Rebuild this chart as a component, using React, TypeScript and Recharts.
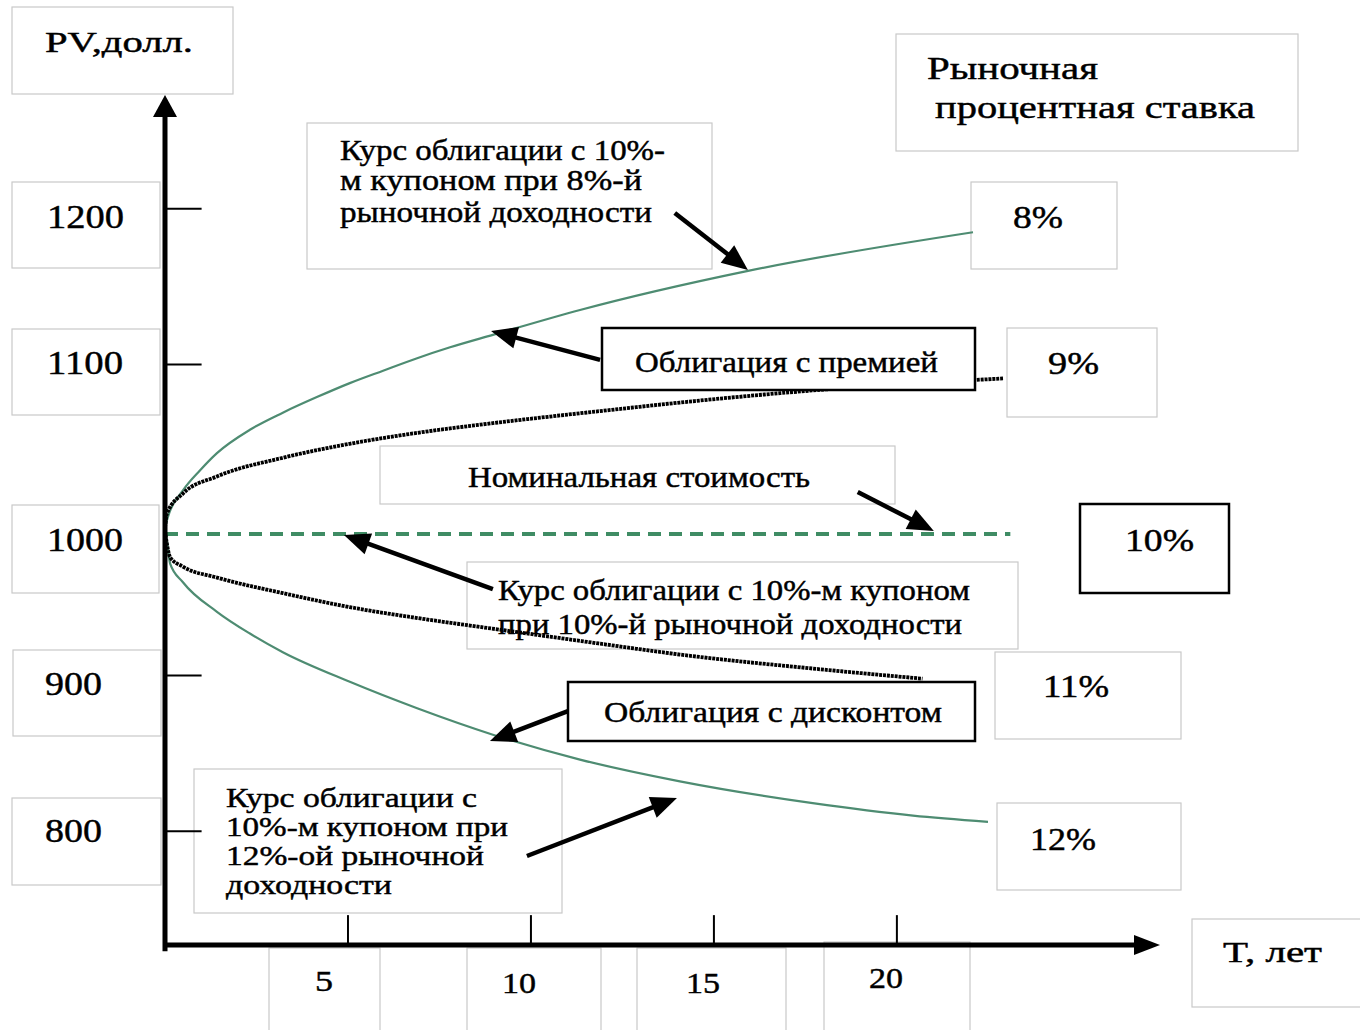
import React from 'react';
import { LineChart, Line, XAxis, YAxis, ReferenceLine } from 'recharts';

// ---- data ----
const t8 = [0, 0.08, 0.49, 0.96, 1.42, 2.32, 3.22, 4.15, 5.05, 5.96, 6.89, 7.79, 8.96, 11.34, 15.9, 22.08];
const pv8 = [995, 1002, 1019, 1032, 1043, 1058, 1069, 1079, 1088, 1096, 1104, 1111, 1119, 1135, 1160, 1185];

const t9 = [0, 0.05, 0.49, 1.42, 3.22, 5.05, 6.89, 8.69, 10.52, 11.89, 14.07, 18.09, 22.9];
const pv9 = [995, 1004, 1017, 1028, 1040, 1049, 1056, 1061.5, 1066.5, 1070, 1075.5, 1084, 1091];

const t11 = [0, 0.05, 0.14, 0.49, 1.42, 3.22, 5.05, 6.89, 8.69, 10.52, 11.89, 14.07, 17.7, 20.7];
const pv11 = [993, 985, 976, 970, 963, 953, 944, 937, 931, 925, 920.5, 913.5, 904.5, 898];

const t12 = [0, 0.05, 0.14, 0.49, 1.42, 2.32, 3.22, 5.05, 6.89, 8.96, 11.34, 14.07, 17.7, 20.44, 22.49];
const pv12 = [993, 987, 972, 960, 941, 927, 915, 896, 879, 862, 846, 832, 818, 810, 806];

const tNominal = [0, 23.1];
const pvNominal = [991, 991];

const yTickValues = [1200, 1100, 900, 800];
const yTickLabels = ['1200', '1100', '1000', '900', '800'];
const xTickValues = [5, 10, 15, 20];
const xTickLabels = ['5', '10', '15', '20'];
const rateLabels = ['8%', '9%', '10%', '11%', '12%'];

const X_MAX = 27.19;
const Y_MIN = 726.8;
const Y_MAX = 1273.2;

// annotation arrows: from [T, PV] -> to [T, PV]
const arrowFrom = [
  [13.93, 1197.4], [11.89, 1102.9], [18.93, 1018.0], [8.96, 955.6], [11.01, 877.2], [9.89, 784.0],
];
const arrowTo = [
  [15.93, 1160.7], [8.91, 1121.5], [21.01, 992.9], [4.89, 990.4], [8.88, 857.9], [13.99, 821.3],
];

const zip = (ts: number[], vs: number[]) => ts.map((t, i) => ({ t, pv: vs[i] }));
const d8 = zip(t8, pv8);
const d9 = zip(t9, pv9);
const d11 = zip(t11, pv11);
const d12 = zip(t12, pv12);
const dNom = zip(tNominal, pvNominal);

const FONT = '"Liberation Serif", "Times New Roman", serif';

const arrowShape = (w: number, headLen: number, headW: number) => (p: any) => {
  const { x1, y1, x2, y2 } = p;
  const dx = x2 - x1;
  const dy = y2 - y1;
  const L = Math.hypot(dx, dy) || 1;
  const ux = dx / L;
  const uy = dy / L;
  const bx = x2 - ux * headLen;
  const by = y2 - uy * headLen;
  const nx = -uy;
  const ny = ux;
  return (
    <g>
      <line x1={x1} y1={y1} x2={bx + ux * 2} y2={by + uy * 2} stroke="#000" strokeWidth={w} />
      <polygon
        points={`${x2},${y2} ${bx + (nx * headW) / 2},${by + (ny * headW) / 2} ${bx - (nx * headW) / 2},${by - (ny * headW) / 2}`}
        fill="#000"
      />
    </g>
  );
};

const plainLine = (w: number) => (p: any) => (
  <line x1={p.x1} y1={p.y1} x2={p.x2} y2={p.y2} stroke="#000" strokeWidth={w} />
);

type Txt = { s: string; x: number; y: number; w: number; fs?: number };
const T = ({ s, x, y, w, fs = 30 }: Txt) => (
  <text
    x={x}
    y={y}
    fontSize={fs}
    fontFamily={FONT}
    fill="#000"
    stroke="#000"
    strokeWidth={0.45}
    textLength={w}
    lengthAdjust="spacingAndGlyphs"
  >
    {s}
  </text>
);

const Box = ({ x, y, w, h, dark, fill }: { x: number; y: number; w: number; h: number; dark?: boolean; fill?: string }) => (
  <rect
    x={x}
    y={y}
    width={w}
    height={h}
    fill={fill ?? 'none'}
    stroke={dark ? '#000' : '#c9c9c9'}
    strokeWidth={dark ? 2.5 : 1.2}
  />
);

export default function App() {
  const under = (
    <svg width={1360} height={1030} style={{ position: 'absolute', left: 0, top: 0 }}>
      <rect x={0} y={0} width={1360} height={1030} fill="#fff" />
      {/* axis title */}
      <Box x={12} y={7} w={221} h={87} />
      <T s="PV,долл." x={45} y={52} w={148} />
      {/* y tick label boxes */}
      <Box x={12} y={182} w={148} h={86} />
      <T s={yTickLabels[0]} x={47} y={228} w={77} fs={34} />
      <Box x={12} y={329} w={148} h={86} />
      <T s={yTickLabels[1]} x={47} y={374} w={76} fs={34} />
      <Box x={12} y={505} w={147} h={88} />
      <T s={yTickLabels[2]} x={47} y={551} w={76} fs={34} />
      <Box x={13} y={650} w={148} h={86} />
      <T s={yTickLabels[3]} x={45} y={695} w={57} fs={34} />
      <Box x={12} y={798} w={149} h={87} />
      <T s={yTickLabels[4]} x={45} y={842} w={57} fs={34} />
      {/* x tick label boxes */}
      <Box x={269} y={948} w={111} h={90} />
      <T s={xTickLabels[0]} x={315} y={991} w={18} />
      <Box x={467} y={948} w={134} h={90} />
      <T s={xTickLabels[1]} x={502} y={993} w={34} />
      <Box x={637} y={948} w={149} h={90} />
      <T s={xTickLabels[2]} x={686} y={993} w={34} />
      <Box x={824} y={942} w={146} h={96} />
      <T s={xTickLabels[3]} x={869} y={988} w={34} />
      {/* x axis title */}
      <Box x={1192} y={919} w={175} h={88} />
      <T s="T, лет" x={1223} y={962} w={99} />
      {/* legend title */}
      <Box x={896} y={34} w={402} h={117} />
      <T s="Рыночная" x={927} y={79} w={171} fs={32} />
      <T s="процентная ставка" x={935} y={118} w={320} fs={32} />
      {/* rate labels */}
      <Box x={971} y={182} w={146} h={87} />
      <T s={rateLabels[0]} x={1013} y={228} w={50} fs={32} />
      <Box x={1007} y={328} w={150} h={89} />
      <T s={rateLabels[1]} x={1048} y={374} w={51} fs={32} />
      <Box x={1080} y={504} w={149} h={89} dark />
      <T s={rateLabels[2]} x={1125} y={551} w={69} fs={32} />
      <Box x={995} y={652} w={186} h={87} />
      <T s={rateLabels[3]} x={1043} y={697} w={66} fs={32} />
      <Box x={997} y={803} w={184} h={87} />
      <T s={rateLabels[4]} x={1030} y={850} w={66} fs={32} />
      {/* annotations */}
      <Box x={307} y={123} w={405} h={146} />
      <T s="Курс облигации с 10%-" x={340} y={160} w={325} />
      <T s="м купоном при 8%-й" x={340} y={190} w={302} />
      <T s="рыночной доходности" x={340} y={222} w={312} />
      <Box x={380} y={446} w={515} h={58} />
      <T s="Номинальная стоимость" x={468} y={487} w={342} />
      <Box x={467} y={562} w={551} h={87} />
      <T s="Курс облигации с 10%-м купоном" x={498} y={600} w={472} />
      <T s="при 10%-й рыночной доходности" x={498} y={634} w={464} />
      <Box x={568} y={682} w={407} h={59} dark fill="#fff" />
      <T s="Облигация с дисконтом" x={604} y={722} w={338} />
      <Box x={194} y={769} w={368} h={144} />
      <T s="Курс облигации с" x={226} y={807} w={251} fs={28} />
      <T s="10%-м купоном при" x={226} y={836} w={282} fs={28} />
      <T s="12%-ой рыночной" x={226} y={865} w={258} fs={28} />
      <T s="доходности" x={226} y={894} w={166} fs={28} />
    </svg>
  );

  const over = (
    <svg width={1360} height={1030} style={{ position: 'absolute', left: 0, top: 0, pointerEvents: 'none' }}>
      <Box x={602} y={328} w={373} h={62} dark fill="#fff" />
      <T s="Облигация с премией" x={635} y={372} w={303} />
    </svg>
  );

  return (
    <div style={{ position: 'absolute', left: 0, top: 0, width: 1360, height: 1030, background: '#fff' }}>
      {under}
      <div style={{ position: 'absolute', left: 0, top: 0 }}>
        <LineChart width={1360} height={1030} margin={{ top: 95, right: 200, bottom: 85, left: 165 }}>
          <XAxis type="number" dataKey="t" domain={[0, X_MAX]} allowDataOverflow hide />
          <YAxis type="number" dataKey="pv" domain={[Y_MIN, Y_MAX]} allowDataOverflow hide />
          <Line data={dNom} dataKey="pv" type="linear" stroke="#3f8c64" strokeWidth={4} strokeDasharray="13 8" dot={false} isAnimationActive={false} />
          <Line data={d8} dataKey="pv" type="monotone" stroke="#4e8c72" strokeWidth={2.2} dot={false} isAnimationActive={false} />
          <Line data={d12} dataKey="pv" type="monotone" stroke="#4e8c72" strokeWidth={2.2} dot={false} isAnimationActive={false} />
          <Line data={d9} dataKey="pv" type="monotone" stroke="#000" strokeWidth={3.8} strokeDasharray="3 0.9" dot={false} isAnimationActive={false} />
          <Line data={d11} dataKey="pv" type="monotone" stroke="#000" strokeWidth={3.8} strokeDasharray="3 0.9" dot={false} isAnimationActive={false} />
          {/* axes */}
          <ReferenceLine segment={[{ x: 0, y: Y_MIN - 4 }, { x: 0, y: Y_MAX }]} ifOverflow="visible" shape={arrowShape(5, 22, 24)} />
          <ReferenceLine segment={[{ x: 0, y: Y_MIN }, { x: X_MAX, y: Y_MIN }]} ifOverflow="visible" shape={arrowShape(5, 26, 20)} />
          {yTickValues.map((v) => (
            <ReferenceLine key={'yt' + v} segment={[{ x: 0, y: v }, { x: 1.0, y: v }]} ifOverflow="visible" shape={plainLine(2)} />
          ))}
          {xTickValues.map((t) => (
            <ReferenceLine key={'xt' + t} segment={[{ x: t, y: Y_MIN }, { x: t, y: 746 }]} ifOverflow="visible" shape={plainLine(2)} />
          ))}
          {arrowFrom.map((f, i) => (
            <ReferenceLine
              key={'ar' + i}
              segment={[{ x: f[0], y: f[1] }, { x: arrowTo[i][0], y: arrowTo[i][1] }]}
              ifOverflow="visible"
              shape={arrowShape(4.5, 26, 22)}
            />
          ))}
        </LineChart>
      </div>
      {over}
    </div>
  );
}
